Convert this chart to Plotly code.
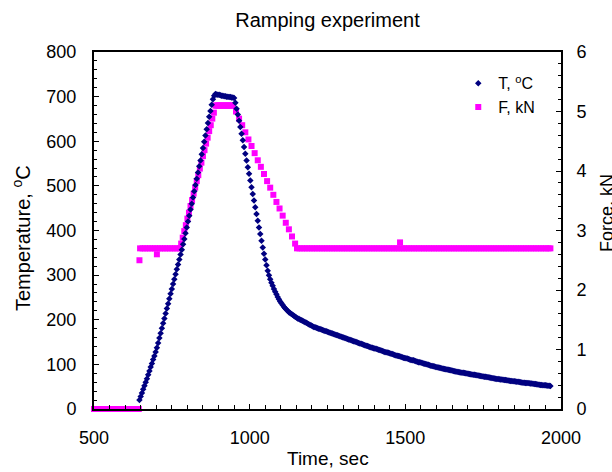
import plotly.graph_objects as go

# ---------------- data ----------------
# Temperature series (time in sec, T in degC)
t_time = [646, 650, 654, 658, 662, 666, 670, 674, 678, 682, 686, 690, 694, 698,
          702, 706, 710, 714, 718, 722, 726, 730, 734, 738, 742, 746, 750, 754,
          758, 762, 766, 770, 774, 778, 782, 786, 790, 794, 798, 802, 806, 810,
          814, 818, 822, 826, 830, 834, 838, 842, 846, 850, 854, 858, 862, 866,
          870, 874, 878, 882, 886, 890, 894, 898, 902, 906, 910, 914, 918, 922,
          926, 930, 934, 938, 942, 946, 950, 954, 958, 962, 966, 970, 974, 978,
          982, 986, 990, 994, 998, 1002, 1006, 1010, 1014, 1018, 1022, 1026, 1030,
          1034, 1038, 1042, 1046, 1050, 1054, 1058, 1062, 1066, 1070, 1074, 1078,
          1082, 1086, 1090, 1094, 1098, 1102, 1106, 1110, 1114, 1118, 1122, 1126,
          1130, 1134, 1138, 1142, 1146, 1150, 1154, 1158, 1162,
          1166, 1170, 1174, 1178, 1182, 1186, 1190, 1194, 1198, 1202, 1206, 1210,
          1214, 1218, 1222, 1226, 1230, 1234, 1238, 1242, 1246, 1250, 1254, 1258,
          1262, 1266, 1270, 1274, 1278, 1282, 1286, 1290, 1294, 1298, 1302, 1306,
          1310, 1314, 1318, 1322, 1326, 1330, 1334, 1338, 1342, 1346, 1350, 1354,
          1358, 1362, 1366, 1370, 1374, 1378, 1382, 1386, 1390, 1394, 1398, 1402,
          1406, 1410, 1414, 1418, 1422, 1426, 1430, 1434, 1438, 1442, 1446, 1450,
          1454, 1458, 1462, 1466, 1470, 1474, 1478, 1482, 1486, 1490, 1494, 1498,
          1502, 1506, 1510, 1514, 1518, 1522, 1526, 1530, 1534, 1538, 1542, 1546,
          1550, 1554, 1558, 1562, 1566, 1570, 1574, 1578, 1582, 1586, 1590, 1594,
          1598, 1602, 1606, 1610, 1614, 1618, 1622, 1626, 1630, 1634, 1638, 1642,
          1646, 1650, 1654, 1658, 1662, 1666, 1670, 1674, 1678, 1682, 1686, 1690,
          1694, 1698, 1702, 1706, 1710, 1714, 1718, 1722, 1726, 1730, 1734, 1738,
          1742, 1746, 1750, 1754, 1758, 1762, 1766, 1770, 1774, 1778, 1782, 1786,
          1790, 1794, 1798, 1802, 1806, 1810, 1814, 1818, 1822, 1826, 1830, 1834,
          1838, 1842, 1846, 1850, 1854, 1858, 1862, 1866, 1870, 1874, 1878, 1882,
          1886, 1890, 1894, 1898, 1902, 1906, 1910, 1914, 1918, 1922, 1926, 1930,
          1934, 1938, 1942, 1946, 1950, 1954, 1958, 1962, 1966]
t_vals = [20, 28, 36, 44, 52, 60, 68, 77, 85, 94, 102, 111, 119, 128,
          137, 148, 159, 170, 181, 192, 203, 214, 225, 236, 247, 258, 269, 280,
          291, 302, 313, 324, 335, 346, 357, 369, 381, 394, 407, 420, 433, 447,
          460, 474, 488, 502, 516, 530, 544, 557, 571, 585, 599, 613, 627, 641,
          655, 668, 682, 694, 702, 706, 705, 704, 704, 703, 702, 702, 701, 701,
          700, 700, 699, 699, 698, 698, 697, 686, 673, 660, 646, 632, 617, 602,
          587, 572, 557, 542, 527, 512, 497, 482, 467, 452, 437, 422, 407,
          392, 377, 362, 348, 335, 322, 310, 300, 291, 283, 276, 269,
          263, 257, 251, 246, 241, 237, 233, 229, 226, 223, 220, 217,
          215, 213, 211, 209, 207, 205, 203, 202, 200,
          199, 197.5, 196, 194.5, 193, 191.5, 190, 188.5, 187, 185.5, 184, 183,
          182, 181, 180, 179, 178, 177, 176, 175, 174, 173, 172, 171,
          170, 169, 168, 167, 166, 165, 164, 163, 162, 161, 160, 159,
          158, 157, 156, 155, 154, 153, 152, 151, 150, 149, 148, 147,
          146, 145, 144, 143, 142, 141, 140, 139, 138, 137, 136, 135.5,
          135, 134, 133, 132, 131, 130, 129, 128, 127, 126.5, 126, 125,
          124, 123, 122, 121, 120, 119.5, 119, 118, 117, 116, 115, 114.5,
          114, 113, 112, 111, 110, 109.5, 109, 108, 107, 106, 105, 104.5,
          104, 103, 102, 101.5, 101, 100, 99, 98, 97, 96.5, 96, 95,
          94, 93.5, 93, 92.5, 92, 91, 90, 89.5, 89, 88.5, 88, 87.5,
          87, 86, 85, 84.5, 84, 83.5, 83, 82.5, 82, 81.5, 81, 80.5,
          80, 79.5, 79, 78.5, 78, 77.5, 77, 76.5, 76, 75.5, 75, 74.5,
          74, 73.5, 73, 72.5, 72, 71.5, 71, 70.5, 70, 69.5, 69, 68.5,
          68, 67.5, 67, 66.5, 66, 66, 65.5, 65, 65, 64.5, 64, 63.5,
          63, 62.5, 62, 62, 61.5, 61, 61, 60.5, 60, 59.5, 59, 59,
          58.5, 58, 58, 57.5, 57, 57, 56.5, 56, 56, 55.5, 55, 54.5,
          54, 54, 53.5, 53, 53, 52.5, 52, 52, 51.5]

# Force series (time in sec, F in kN)
f_time = [500, 508, 516, 524, 532, 540, 548, 556, 564, 572, 580, 588, 596, 604,
          612, 620, 628, 636, 644,
          646, 648, 656, 664, 672, 680, 688, 696, 702, 704, 712, 720, 728, 736,
          744, 752, 760, 768, 776,
          780, 785, 790, 795, 800, 805, 810, 815, 820, 825, 830, 835, 840, 845,
          850, 855, 860, 865, 870, 875, 880, 885,
          890, 894, 898, 902, 906, 910, 914, 918, 922, 926, 930, 934, 938, 942, 946,
          956, 966, 976, 986, 996, 1006, 1016, 1026, 1036, 1046, 1056, 1066, 1076,
          1086, 1096, 1106, 1116, 1126, 1136, 1146,
          1152, 1160, 1168, 1176, 1184, 1192, 1200, 1208, 1216, 1224, 1232, 1240,
          1248, 1256, 1264, 1272, 1280, 1288, 1296, 1304, 1312, 1320, 1328, 1336,
          1344, 1352, 1360, 1368, 1376, 1384, 1392, 1400, 1408, 1416, 1424, 1432,
          1440, 1448, 1456, 1464, 1472, 1480, 1483, 1488, 1496, 1504, 1512, 1520,
          1528, 1536, 1544, 1552, 1560, 1568, 1576, 1584, 1592, 1600, 1608, 1616,
          1624, 1632, 1640, 1648, 1656, 1664, 1672, 1680, 1688, 1696, 1704, 1712,
          1720, 1728, 1736, 1744, 1752, 1760, 1768, 1776, 1784, 1792, 1800, 1808,
          1816, 1824, 1832, 1840, 1848, 1856, 1864, 1872, 1880, 1888, 1896, 1904,
          1912, 1920, 1928, 1936, 1944, 1952, 1960, 1966]
f_vals = [0, 0, 0, 0, 0, 0, 0, 0, 0, 0, 0, 0, 0, 0,
          0, 0, 0, 0, 0,
          2.5, 2.7, 2.7, 2.7, 2.7, 2.7, 2.7, 2.7, 2.6, 2.7, 2.7, 2.7, 2.7, 2.7,
          2.7, 2.7, 2.7, 2.7, 2.7,
          2.78, 2.88, 2.99, 3.09, 3.20, 3.30, 3.41, 3.51, 3.62, 3.72, 3.83, 3.93,
          4.04, 4.14, 4.25, 4.35, 4.46, 4.56, 4.67, 4.77, 4.88, 4.98,
          5.1, 5.1, 5.1, 5.1, 5.1, 5.1, 5.1, 5.1, 5.1, 5.1, 5.1, 5.1, 5.1, 5.1, 5.1,
          5.0, 4.88, 4.77, 4.65, 4.53, 4.42, 4.30, 4.18, 4.07, 3.95, 3.83, 3.72,
          3.60, 3.48, 3.37, 3.25, 3.13, 3.02, 2.90, 2.78,
          2.7, 2.7, 2.7, 2.7, 2.7, 2.7, 2.7, 2.7, 2.7, 2.7, 2.7, 2.7,
          2.7, 2.7, 2.7, 2.7, 2.7, 2.7, 2.7, 2.7, 2.7, 2.7, 2.7, 2.7,
          2.7, 2.7, 2.7, 2.7, 2.7, 2.7, 2.7, 2.7, 2.7, 2.7, 2.7, 2.7,
          2.7, 2.7, 2.7, 2.7, 2.7, 2.7, 2.8, 2.7, 2.7, 2.7, 2.7, 2.7,
          2.7, 2.7, 2.7, 2.7, 2.7, 2.7, 2.7, 2.7, 2.7, 2.7, 2.7, 2.7,
          2.7, 2.7, 2.7, 2.7, 2.7, 2.7, 2.7, 2.7, 2.7, 2.7, 2.7, 2.7,
          2.7, 2.7, 2.7, 2.7, 2.7, 2.7, 2.7, 2.7, 2.7, 2.7, 2.7, 2.7,
          2.7, 2.7, 2.7, 2.7, 2.7, 2.7, 2.7, 2.7, 2.7, 2.7, 2.7, 2.7,
          2.7, 2.7, 2.7, 2.7, 2.7, 2.7, 2.7, 2.7]

x_ticks = [500, 1000, 1500, 2000]
temp_ticks = [0, 100, 200, 300, 400, 500, 600, 700, 800]
force_ticks = [0, 1, 2, 3, 4, 5, 6]

chart_title = "Ramping experiment"
x_title = "Time, sec"
temp_title = "Temperature, <sup>o</sup>C"
force_title = "Force, kN"
t_name = "T, <sup>o</sup>C"
f_name = "F, kN"

# ---------------- figure ----------------
FONT = "Liberation Sans, Arial, sans-serif"
NAVY = "#000080"
MAGENTA = "#FF00FF"

fig = go.Figure()
# T drawn on the overlaying (left) axis so its dots sit above the force squares
fig.add_trace(go.Scatter(
    x=t_time, y=t_vals, name=t_name, mode="markers", yaxis="y2",
    marker=dict(symbol="diamond", size=5, color=NAVY, line=dict(width=0)),
    cliponaxis=False,
))
fig.add_trace(go.Scatter(
    x=f_time, y=f_vals, name=f_name, mode="markers", yaxis="y",
    marker=dict(symbol="square", size=6, color=MAGENTA, line=dict(width=0)),
    cliponaxis=False,
))

axis_common = dict(
    showline=True, linecolor="black", linewidth=2, showgrid=False, zeroline=False,
    ticks="inside", ticklen=5, tickwidth=1, tickcolor="black",
    tickfont=dict(family=FONT, size=18, color="black"),
)

fig.update_layout(
    width=612, height=472,
    margin=dict(l=94, r=51, t=52, b=63, pad=0),
    paper_bgcolor="white", plot_bgcolor="white",
    font=dict(family=FONT, color="black"),
    title=dict(text=chart_title, x=0.5, xref="paper", y=1 - 20 / 472, yref="container",
               xanchor="center", yanchor="middle",
               font=dict(family=FONT, size=20, color="black")),
    xaxis=dict(range=[500, 2000], tickvals=x_ticks, mirror=True,
               minor=dict(dtick=50, ticks="inside", ticklen=4, tickcolor="black"),
               ticklabelstandoff=11, **axis_common),
    # force axis (right)
    yaxis=dict(range=[0, 6], tickvals=force_ticks, side="right",
               minor=dict(dtick=0.2, ticks="inside", ticklen=3, tickcolor="black"),
               ticklabelstandoff=10, **axis_common),
    # temperature axis (left)
    yaxis2=dict(range=[0, 800], tickvals=temp_ticks, overlaying="y", side="left",
                minor=dict(dtick=20, ticks="inside", ticklen=3, tickcolor="black"),
                ticklabelstandoff=12, **axis_common),
    legend=dict(x=0.78, y=0.96, xanchor="left", yanchor="top",
                bgcolor="rgba(0,0,0,0)", borderwidth=0,
                font=dict(family=FONT, size=16, color="black"),
                itemwidth=30, tracegroupgap=0, traceorder="normal"),
    showlegend=True,
)

fig.add_annotation(text=x_title, xref="paper", yref="paper",
                   x=0.5, y=-(458 - 409) / 357, xanchor="center", yanchor="middle",
                   showarrow=False, font=dict(family=FONT, size=19, color="black"))
fig.add_annotation(text=temp_title, xref="paper", yref="paper", textangle=-90,
                   x=(22 - 94) / 467, y=(409 - 238) / 357, xanchor="center", yanchor="middle",
                   showarrow=False, font=dict(family=FONT, size=20, color="black"))
fig.add_annotation(text=force_title, xref="paper", yref="paper", textangle=-90,
                   x=(607 - 94) / 467, y=(409 - 213) / 357, xanchor="center", yanchor="middle",
                   showarrow=False, font=dict(family=FONT, size=18, color="black"))

fig.write_html("out.html", config={"displayModeBar": False},
               post_script="document.body.style.margin='0';")
